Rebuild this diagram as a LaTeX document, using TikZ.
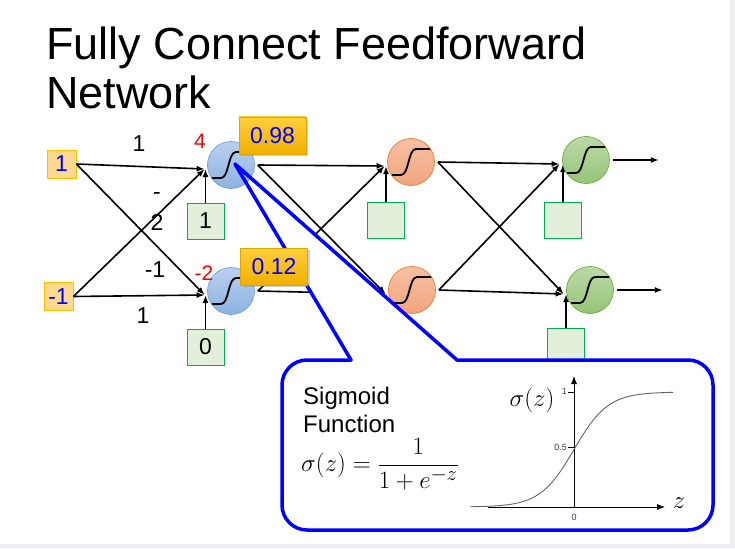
\documentclass[tikz,border=0pt]{standalone}
\usepackage{fontspec}
\setmainfont{Liberation Sans}
\usetikzlibrary{arrows,arrows.meta,shadows}
\pgfdeclarelayer{slide}
\pgfdeclarelayer{wires}
\pgfdeclarelayer{cover}
\pgfdeclarelayer{front}
\pgfsetlayers{slide,wires,cover,main,front}

\definecolor{slidegray}{RGB}{238,238,240}
\definecolor{nblueT}{RGB}{186,208,238}
\definecolor{nblueB}{RGB}{140,178,226}
\definecolor{nblueD}{RGB}{120,160,215}
\definecolor{norgT}{RGB}{248,192,162}
\definecolor{norgB}{RGB}{241,164,128}
\definecolor{norgD}{RGB}{237,125,49}
\definecolor{ngrnT}{RGB}{188,217,168}
\definecolor{ngrnB}{RGB}{150,196,120}
\definecolor{ngrnD}{RGB}{112,173,71}
\definecolor{infill}{RGB}{255,217,142}
\definecolor{inedge}{RGB}{255,192,0}
\definecolor{bfill}{RGB}{226,239,218}
\definecolor{bedge}{RGB}{0,176,80}
\definecolor{valT}{RGB}{255,206,60}
\definecolor{valB}{RGB}{240,176,0}
\definecolor{valD}{RGB}{225,165,0}
\definecolor{curvegray}{RGB}{100,100,100}

\tikzset{
  neuron/.style={circle, minimum size=47pt, inner sep=0pt, line width=0.7pt,
    path picture={\draw[black, line width=1.8pt, shift={(path picture bounding box.center)}]
      (-19,13) -- (-10,13) .. controls (-2,13) and (-3,-13) .. (5,-13) -- (21,-13);}},
  layerA/.style={neuron, draw=nblueD, top color=nblueT, bottom color=nblueB},
  layerB/.style={neuron, draw=norgD, top color=norgT, bottom color=norgB},
  layerC/.style={neuron, draw=ngrnD, top color=ngrnT, bottom color=ngrnB},
  numfont/.style={font=\fontsize{23}{31}\selectfont},
  inbox/.style={numfont, draw=inedge, fill=infill, line width=0.8pt, text=blue,
    minimum width=29pt, minimum height=28pt, inner sep=0pt},
  biasbox/.style={numfont, draw=bedge, fill=bfill, line width=0.8pt,
    minimum width=37pt, minimum height=36pt, inner sep=0pt},
  valbox/.style={numfont, draw=valD, top color=valT, bottom color=valB, text=blue,
    minimum width=67pt, minimum height=37pt, inner sep=0pt,
    drop shadow={shadow xshift=2pt, shadow yshift=-2pt, opacity=0.35}},
  wire/.style={->, line width=1.6pt},
  wlabel/.style={numfont, inner sep=0pt},
  zlabel/.style={font=\fontsize{21}{25}\selectfont, text=red, inner sep=0pt},
  callout/.style={draw=blue, line width=3.5pt, line join=round},
  ticklabel/.style={font=\fontsize{9}{10}\selectfont, text=black!75, inner sep=1pt}
}

\begin{document}
\begin{tikzpicture}[x=1pt,y=-1pt,cap=round,>={Latex[length=8pt,width=6pt]}]
  % slide
  \begin{pgfonlayer}{slide}
    \fill[slidegray] (0,0) rectangle (735,548);
    \fill[white] (0,0) rectangle (730,544);
  \end{pgfonlayer}
  \node[anchor=north west, align=left, inner sep=0pt, font=\fontsize{45}{49}\selectfont]
    (title) at (46,27) {Fully Connect Feedforward\\Network};

  % neurons
  \node[layerA] (h11) at (231,165) {};
  \node[layerA] (h12) at (231,291) {};
  \node[layerB] (h21) at (411,162) {};
  \node[layerB] (h22) at (412,290) {};
  \node[layerC] (h31) at (586,160) {};
  \node[layerC] (h32) at (590,290) {};
  \foreach \n in {11,12,21,22,31,32}{
    \coordinate (t\n) at ([xshift=-2.5pt,yshift=-4pt]h\n.west);
    \coordinate (s\n) at ([xshift=3pt]h\n.east);
  }
  \foreach \i in {1,2}
    \coordinate (o\i) at ([xshift=46pt]s3\i);
  \coordinate (tip) at ([shift={(4,-1)}]h11.center);

  \begin{pgfonlayer}{wires}
    \node[inbox] (x1) at (61.5,164) {1};
    \node[inbox] (x2) at (58.5,296.5) {-1};
    \node[biasbox] (b11) at (205.5,221) {1};
    \node[biasbox] (b12) at (205.5,347) {0};
    \node[biasbox] (b21) at (386,220) {};
    \node[biasbox] (b31) at (563,220) {};
    \node[biasbox] (b32) at (566,346) {};
    \foreach \i in {1,2}{
      \foreach \j in {1,2}{
        \draw[wire] (x\i.east) -- (t1\j);
        \draw[wire] (s1\i) -- (t2\j);
        \draw[wire] (s2\i) -- (t3\j);
      }
      \draw[wire] (s3\i) -- (o\i);
    }
    \foreach \n in {11,12,21,31,32}
      \draw[wire] (b\n.north) -- (b\n.north |- t\n);
  \end{pgfonlayer}

  % weights and sums
  \node[wlabel] (w11) at (139,144) {1};
  \node[wlabel, align=center] (w12) at (157,211) {-\\2};
  \node[wlabel] (w21) at (155,270) {-1};
  \node[wlabel] (w22) at (143,316) {1};
  \node[zlabel] (z1) at (200,141) {4};
  \node[zlabel] (z2) at (204,273) {-2};

  % callout
  \begin{pgfonlayer}{cover}
    \fill[white] (457,360) -- (688,360) arc[start angle=90, end angle=0, radius=25pt]
      -- (713,505) arc[start angle=0, end angle=-90, radius=25pt]
      -- (307,530) arc[start angle=270, end angle=180, radius=25pt]
      -- (282,385) arc[start angle=180, end angle=90, radius=25pt]
      -- (351,360) -- (tip) -- cycle;
  \end{pgfonlayer}
  \begin{pgfonlayer}{front}
    \draw[callout] (457,360) -- (688,360) arc[start angle=90, end angle=0, radius=25pt]
      -- (713,505) arc[start angle=0, end angle=-90, radius=25pt]
      -- (307,530) arc[start angle=270, end angle=180, radius=25pt]
      -- (282,385) arc[start angle=180, end angle=90, radius=25pt]
      -- (351,360) -- (tip) -- cycle;
    \node[valbox] (v1) at (272.5,135.5) {0.98};
    \node[valbox] (v2) at (274,266.5) {0.12};

    \node[anchor=north west, align=left, inner sep=0pt, font=\fontsize{24}{28}\selectfont]
      (sigtext) at (303,387) {Sigmoid\\Function};
    \node[anchor=base west, inner sep=0pt, font=\fontsize{29}{33}\selectfont]
      (sigeq) at (301,471) {$\displaystyle\sigma\Bigl(z\Bigr)=\frac{1}{1+e^{-z}}$};

    % sigmoid plot
    \draw[->, line width=0.8pt] (488,507) -- (665,507);
    \draw[->, line width=0.8pt] (574,507) -- (574,376);
    \foreach \v in {392,447}
      \draw[line width=0.6pt] (568,\v) -- (574,\v);
    \node[ticklabel, anchor=east] (l1) at (568,391) {1};
    \node[ticklabel, anchor=east] (l05) at (568,447) {0.5};
    \node[ticklabel] (l0) at (574,517) {0};
    \draw[curvegray, line width=0.9pt] plot[domain=470:673, samples=80]
      (\x, {507 - 115/(1+exp(-(\x-574)/17))});
    \node[inner sep=0pt, font=\fontsize{26}{30}\selectfont] (sz) at (532,400) {$\sigma\Bigl(z\Bigr)$};
    \node[inner sep=0pt, font=\fontsize{30}{34}\selectfont] (zl) at (679,503) {$z$};
  \end{pgfonlayer}
\end{tikzpicture}
\end{document}
